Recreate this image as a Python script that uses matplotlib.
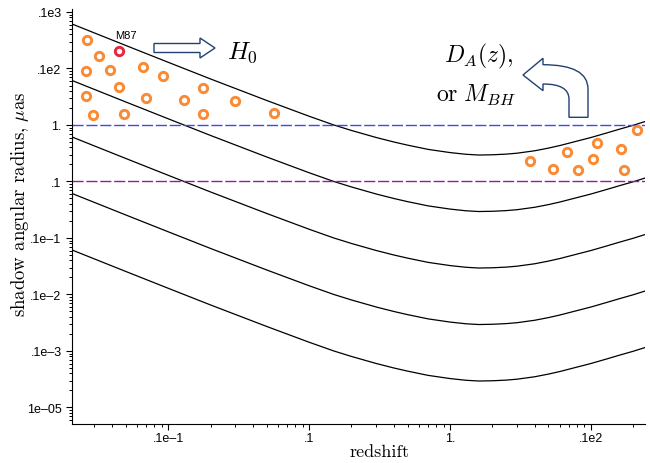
import matplotlib
matplotlib.use("Agg")
import matplotlib.pyplot as plt
from matplotlib.patches import FancyArrow, PathPatch
from matplotlib.path import Path
from matplotlib.ticker import FixedLocator, LogLocator, NullFormatter

plt.rcParams["mathtext.fontset"] = "cm"

W, H = 650, 464

# shadow radius (micro-arcsec) of the heaviest black hole curve vs redshift
curve_z = [0.002, 0.005, 0.01, 0.02, 0.05, 0.1, 0.15, 0.2, 0.3, 0.4, 0.5, 0.7,
           1.0, 1.3, 1.6, 2.0, 2.5, 3.0, 4.0, 5.0, 6.0, 8.0, 10, 13, 16, 20, 25]
curve_theta = [63.8, 25.6, 12.9, 6.53, 2.72, 1.43, 1.0, 0.80, 0.60, 0.50, 0.44, 0.37,
               0.325, 0.303, 0.294, 0.297, 0.305, 0.317, 0.35, 0.39, 0.432, 0.52, 0.60,
               0.725, 0.845, 0.99, 1.18]
# every next curve is a black hole ten times lighter
mass_factor = [1, 1e-1, 1e-2, 1e-3, 1e-4]

# nearby sources
near_z = [0.00265, 0.00321, 0.00262, 0.00388, 0.00662, 0.00917, 0.00449, 0.00262,
          0.00692, 0.0130, 0.0178, 0.0299, 0.00295, 0.00490, 0.0178, 0.0568]
near_theta = [32.3, 16.9, 9.15, 9.4, 10.5, 7.37, 4.65, 3.22,
              3.0, 2.8, 4.52, 2.66, 1.52, 1.57, 1.57, 1.63]
# high redshift sources
far_z = [21.2, 11.0, 16.3, 6.76, 3.69, 10.4, 5.40, 8.13, 17.1]
far_theta = [0.80, 0.48, 0.376, 0.329, 0.235, 0.25, 0.166, 0.163, 0.162]
m87_z, m87_theta = 0.00449, 20.7

limit_high = 1.0
limit_low = 0.1

x_ticks = [0.01, 0.1, 1, 10]
x_labels = [".1e\u20131", ".1", "1.", ".1e2"]
y_ticks = [100, 10, 1, 0.1, 0.01, 0.001, 1e-4, 1e-5]
y_labels = [".1e3", ".1e2", "1.", ".1", ".1e\u20131", ".1e\u20132", ".1e\u20133", "1e\u201305"]


def px(x, y):
    # pixel position in the picture -> figure fraction
    return (x / W, 1 - y / H)


fig = plt.figure(figsize=(W / 100, H / 100), dpi=100)
ax = fig.add_axes([72 / W, 1 - 425 / H, 573 / W, 415 / H])
ax.set_xscale("log")
ax.set_yscale("log")
ax.set_xlim(0.00208, 24.2)
ax.set_ylim(5.1e-6, 113)

for f in mass_factor:
    ax.plot(curve_z, [t * f for t in curve_theta], color="black", lw=0.9)

ax.axhline(limit_high, color="#4646ea", lw=1, dashes=(8, 2))
ax.axhline(limit_low, color="#9c189c", lw=1, dashes=(8, 2))

ring = dict(ls="none", marker="o", ms=6, mfc="white", mew=2.1, zorder=5)
ax.plot(near_z, near_theta, mec="#fa8a33", **ring)
ax.plot(far_z, far_theta, mec="#fa8a33", **ring)
ax.plot([m87_z], [m87_theta], mec="#e6283a", **ring)
ax.annotate("M87", (m87_z, m87_theta), xytext=(5, 9), textcoords="offset points",
            ha="center", va="baseline", fontsize=8, family="Liberation Sans")

ax.spines["top"].set_visible(False)
ax.spines["right"].set_visible(False)
for s in ("left", "bottom"):
    ax.spines[s].set_linewidth(0.8)

ax.xaxis.set_major_locator(FixedLocator(x_ticks))
ax.set_xticklabels(x_labels)
ax.yaxis.set_major_locator(FixedLocator(y_ticks))
ax.set_yticklabels(y_labels)
for axis in (ax.xaxis, ax.yaxis):
    axis.set_minor_locator(LogLocator(base=10, subs=range(2, 10), numticks=30))
    axis.set_minor_formatter(NullFormatter())
ax.tick_params(which="major", direction="out", length=4, width=0.8, labelsize=9)
ax.tick_params(which="minor", direction="out", length=2, width=0.7)
ax.tick_params(axis="x", pad=2)
for lab in ax.get_xticklabels() + ax.get_yticklabels():
    lab.set_family("Liberation Sans")

ax.set_xlabel("redshift", family="cmr10", fontsize=13)
ax.xaxis.set_label_coords((380 - 72) / 573, -(445 - 425) / 415)
ax.set_ylabel(r"shadow angular radius, $\mu$as", family="cmr10", fontsize=13.5)
ax.yaxis.set_label_coords((31 - 72) / 573, (425 - 204) / 415)

# straight arrow towards H0
fig.patches.append(FancyArrow(154 / W, 1 - 49 / H, 61 / W, 0, width=9 / H,
                              head_width=20 / H, head_length=15 / W,
                              length_includes_head=True, transform=fig.transFigure,
                              fc="white", ec="#23406f", lw=1))
fig.text(*px(227, 59), r"$H_0$", fontsize=18, ha="left", va="baseline")

# bent arrow
verts = [px(543, 65.7), px(588, 65.7), px(588, 90), px(588, 118.3), px(569, 118.3),
         px(569, 100), px(569, 85), px(543, 85), px(543, 91.7), px(523, 76),
         px(543, 59.3), px(543, 65.7)]
codes = [Path.MOVETO, Path.CURVE3, Path.CURVE3, Path.LINETO, Path.LINETO,
         Path.LINETO, Path.CURVE3, Path.CURVE3, Path.LINETO, Path.LINETO,
         Path.LINETO, Path.CLOSEPOLY]
fig.patches.append(PathPatch(Path(verts, codes), transform=fig.transFigure,
                             fc="white", ec="#23406f", lw=1))
fig.text(*px(479, 62), r"$D_A(z),$", fontsize=17, ha="center", va="baseline")
fig.text(*px(476, 102), r"$\mathrm{or}\ M_{BH}$", fontsize=17, ha="center", va="baseline")

fig.savefig("out.png", dpi=100)
